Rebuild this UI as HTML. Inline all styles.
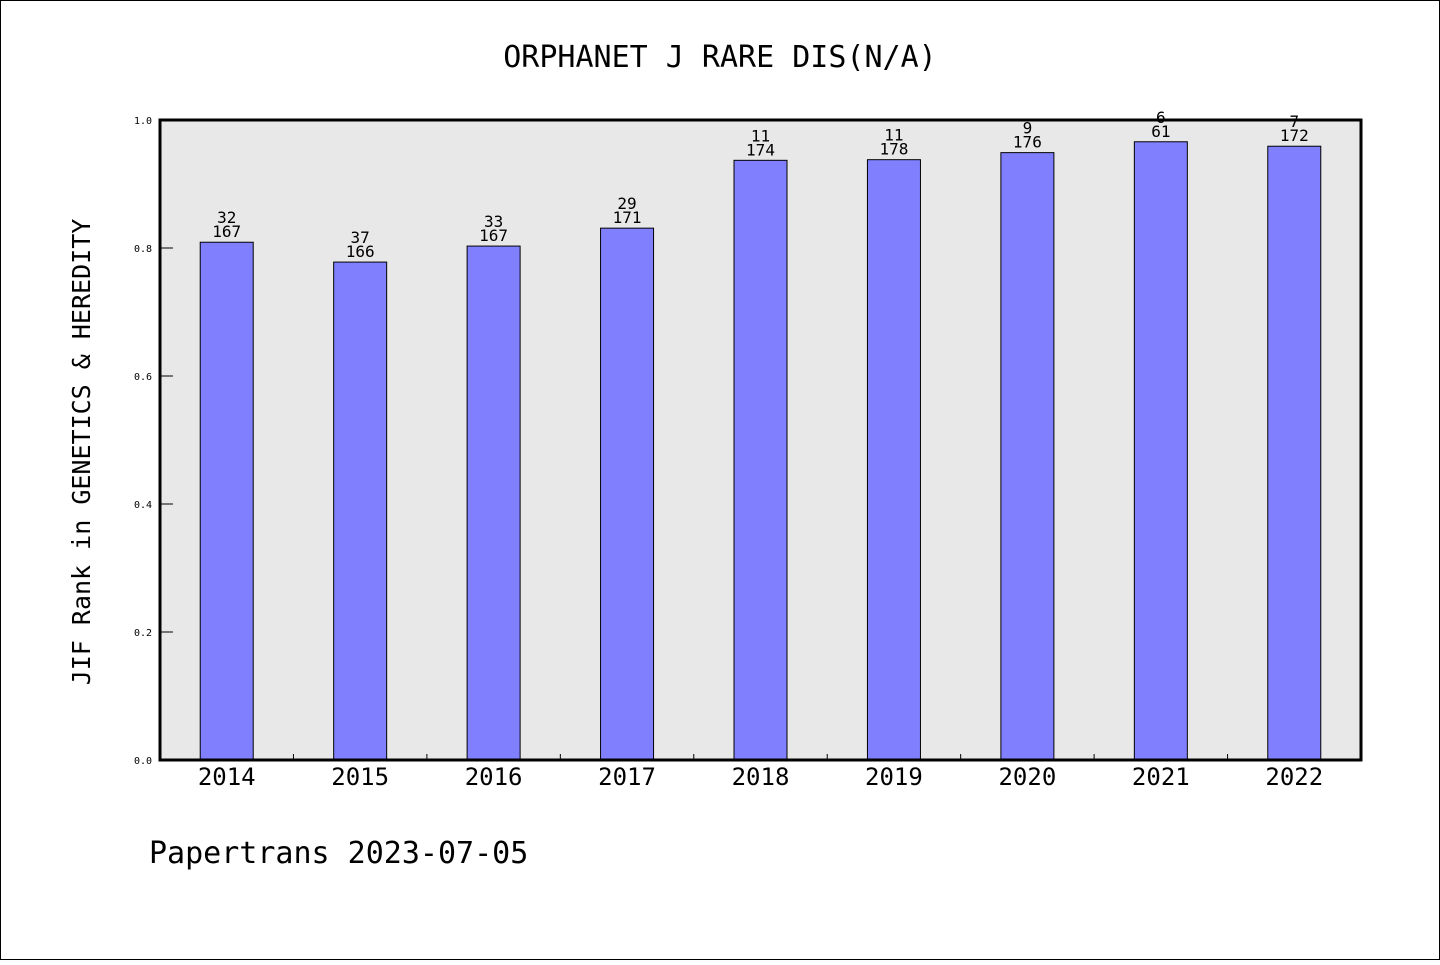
<!DOCTYPE html>
<html><head><meta charset="utf-8"><style>
html,body{margin:0;padding:0;background:#fff}
svg text{font-family:"WenQuanYi Zen Hei","DejaVu Sans Mono","Liberation Mono",monospace}
</style></head><body>
<svg id="chart" width="1440" height="960" xmlns="http://www.w3.org/2000/svg">
<rect x="0.5" y="0.5" width="1439" height="959" fill="#fff" stroke="#000"/>
<text x="720" y="67" font-size="30" text-anchor="middle">ORPHANET J RARE DIS(N/A)</text>
<rect x="160" y="120" width="1201" height="640" fill="#e8e8e8"/>
<g id="bars"></g>
<g id="axes"></g>
<rect x="160" y="120" width="1201" height="640" fill="none" stroke="#000" stroke-width="3"/>
<text transform="translate(90,452) rotate(-90)" font-size="25" text-anchor="middle">JIF Rank in GENETICS &amp; HEREDITY</text>
<text x="149" y="863" font-size="30">Papertrans 2023-07-05</text>
</svg>
<script>
const categories=["2014","2015","2016","2017","2018","2019","2020","2021","2022"];
const values=[0.809,0.778,0.803,0.831,0.937,0.938,0.949,0.966,0.959];
const ranks=["32","37","33","29","11","11","9","6","7"];
const totals=["167","166","167","171","174","178","176","61","172"];
const yTicks=[0,0.2,0.4,0.6,0.8,1.0];
const yTickLabels=["0.0","0.2","0.4","0.6","0.8","1.0"];
const NS="http://www.w3.org/2000/svg";
const X0=160,X1=1361,Y0=760,Y1=120;
const band=(X1-X0)/categories.length;
const xc=i=>X0+band*(i+0.5);
const y=v=>Y0-(Y0-Y1)*v;
function mk(t,a,p){const e=document.createElementNS(NS,t);for(const k in a)e.setAttribute(k,a[k]);p.appendChild(e);return e;}
const bars=document.getElementById('bars'),axes=document.getElementById('axes');
categories.forEach((c,i)=>{
  const r=mk('rect',{x:xc(i)-26.5,y:y(values[i]),width:53,height:Y0-y(values[i]),fill:'#8080ff',stroke:'#000','stroke-width':1},bars);
  
  
  const t1=mk('text',{x:xc(i),y:y(values[i])-19,'font-size':16,'text-anchor':'middle'},bars);t1.textContent=ranks[i];
  
  
  const t2=mk('text',{x:xc(i),y:y(values[i])-5,'font-size':16,'text-anchor':'middle'},bars);t2.textContent=totals[i];
  
  
  const xl=mk('text',{x:xc(i),y:785,'font-size':24,'text-anchor':'middle'},axes);xl.textContent=c;
  
  
  if(i>0){const tk=mk('line',{x1:X0+band*i,x2:X0+band*i,y1:Y0,y2:Y0-6,stroke:'#000'},axes);
  
  }
});
yTicks.forEach((v,i)=>{
  const tk=mk('line',{x1:X0,x2:X0+13,y1:y(v),y2:y(v),stroke:'#000'},axes);
  
  
  const l=mk('text',{x:152,y:y(v)+4,'font-size':10,'text-anchor':'end'},axes);l.textContent=yTickLabels[i];
  
  
});
</script>
</body></html>
